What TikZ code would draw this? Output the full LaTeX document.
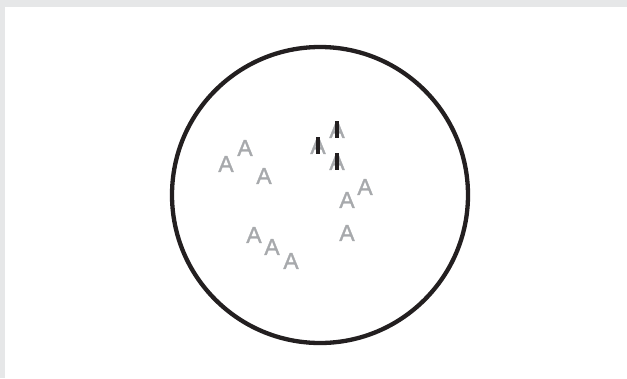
\documentclass[tikz,border=0pt]{standalone}
\usepackage{fontspec}
\setmainfont{Liberation Sans}
\newfontfamily\lettfont[FakeBold=1.2]{Liberation Sans}
\definecolor{framegray}{HTML}{E6E7E8}
\definecolor{lettergray}{HTML}{A7A9AC}
\definecolor{ink}{HTML}{231F20}
\begin{document}
\begin{tikzpicture}[x=1pt,y=-1pt,
  letter/.style={text=lettergray,font=\lettfont\fontsize{23}{23}\selectfont,inner sep=0pt,anchor=center},
  bar/.style={fill=ink,draw=none}]
\useasboundingbox (0,0) rectangle (627,378);
\fill[framegray] (0,0) rectangle (627,378);
\fill[white] (5,7) rectangle (627,378);
\node[circle,draw=ink,line width=4.3pt,minimum size=296pt,inner sep=0pt] (c) at (320,195) {};
\node[letter] (a1) at (226,164) {A};
\node[letter] (a2) at (245,148) {A};
\node[letter] (a3) at (264,176) {A};
\node[letter] (a4) at (318,146) {A};
\node[letter] (a5) at (337,130) {A};
\node[letter] (a6) at (337,162) {A};
\node[letter] (a7) at (347,200) {A};
\node[letter] (a8) at (365,187) {A};
\node[letter] (a9) at (347,233) {A};
\node[letter] (a10) at (254,235) {A};
\node[letter] (a11) at (272,247) {A};
\node[letter] (a12) at (291,261) {A};
\fill[bar] (316,137) rectangle (319.5,153.5);
\fill[bar] (335.3,121) rectangle (338.8,137.5);
\fill[bar] (335.3,153) rectangle (338.8,170);
\end{tikzpicture}
\end{document}
